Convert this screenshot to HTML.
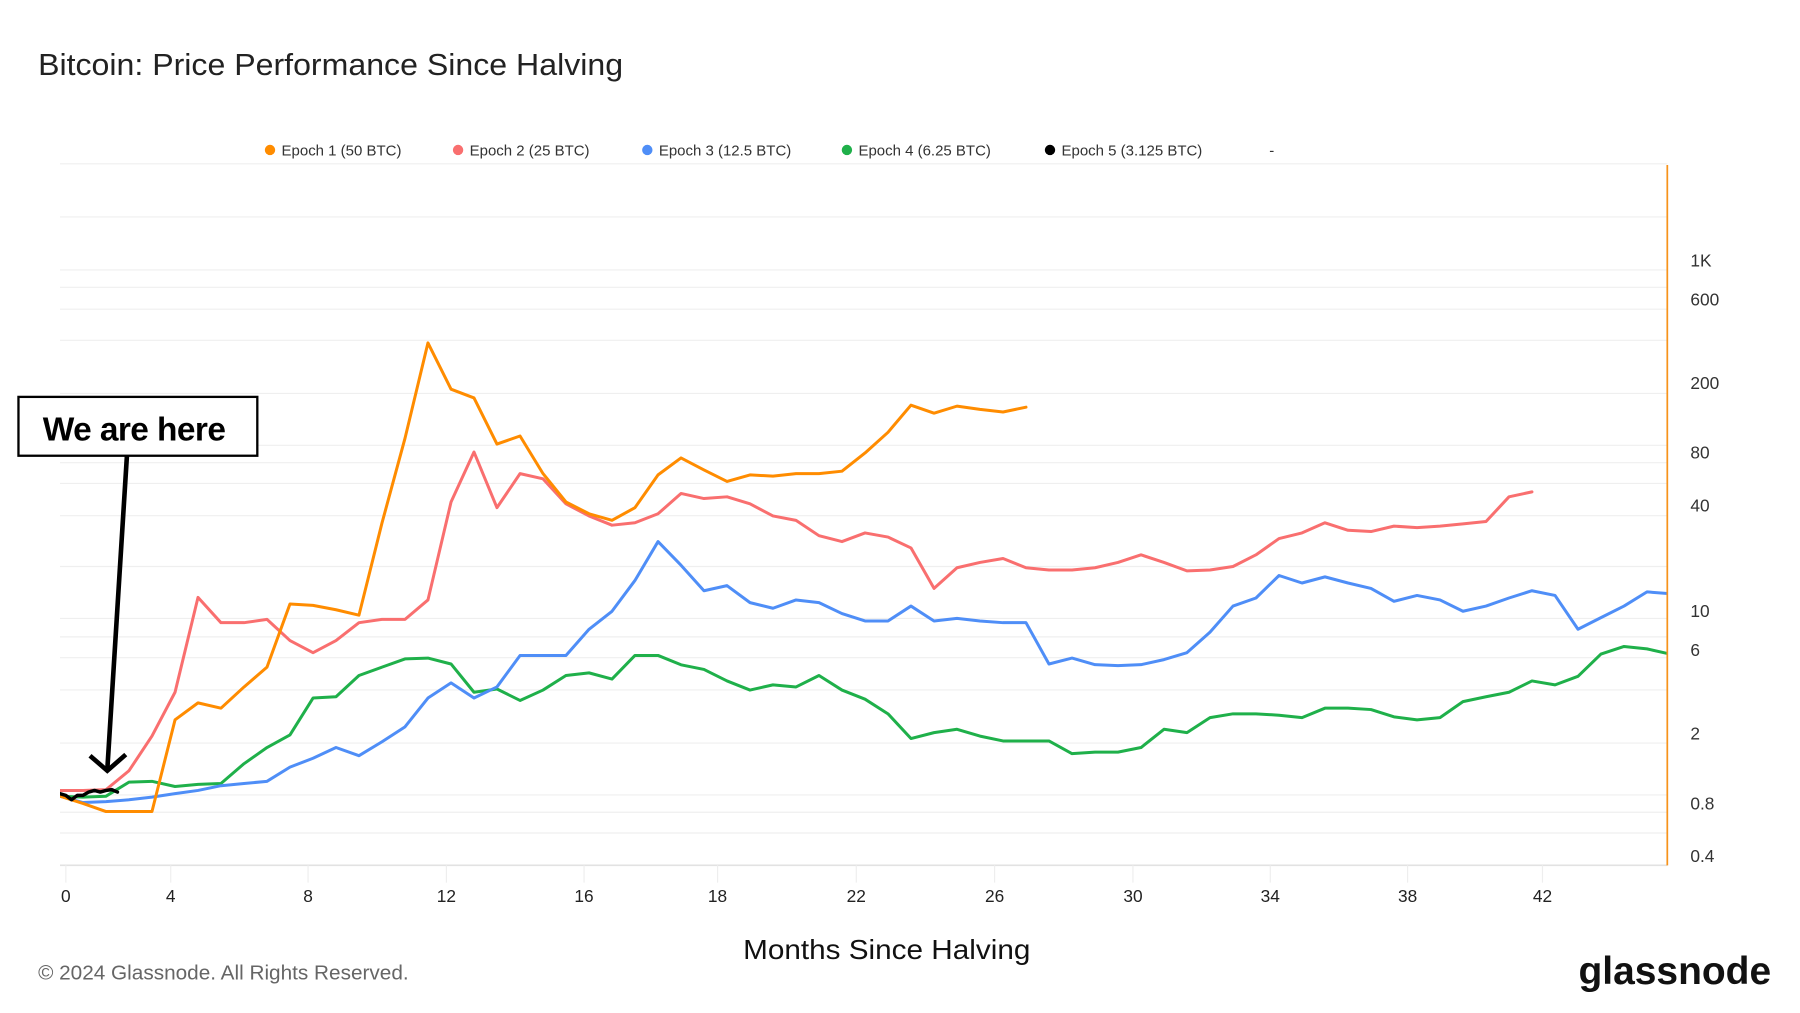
<!DOCTYPE html>
<html>
<head>
<meta charset="utf-8">
<style>
  html,body{margin:0;padding:0;background:#fff;}
  svg{display:block;}
  text{font-family:"Liberation Sans", sans-serif;}
</style>
</head>
<body>
<svg id="chart" xmlns="http://www.w3.org/2000/svg" width="1800" height="1013" viewBox="0 0 1560 878" preserveAspectRatio="none">
  <defs>
    <clipPath id="plotclip"><rect x="52" y="140" width="1393" height="612"/></clipPath>
  </defs>
  <text x="33" y="65" font-size="26.5" fill="#222" textLength="507" lengthAdjust="spacingAndGlyphs">Bitcoin: Price Performance Since Halving</text>

  <g id="legend" font-size="13" fill="#333">
    <g><circle cx="234" cy="130" r="4.5" fill="#ff8c00"/><text x="244" y="135">Epoch 1 (50 BTC)</text></g>
    <g><circle cx="397" cy="130" r="4.5" fill="#f96f6f"/><text x="407" y="135">Epoch 2 (25 BTC)</text></g>
    <g><circle cx="561" cy="130" r="4.5" fill="#4f8ef7"/><text x="571" y="135">Epoch 3 (12.5 BTC)</text></g>
    <g><circle cx="734" cy="130" r="4.5" fill="#1fb04a"/><text x="744" y="135">Epoch 4 (6.25 BTC)</text></g>
    <g><circle cx="910" cy="130" r="4.5" fill="#000"/><text x="920" y="135">Epoch 5 (3.125 BTC)</text></g>
    <text x="1100" y="135">-</text>
  </g>

  <g id="grid"></g>
  <g id="xaxis"></g>
  <g id="yaxis"></g>
  <g id="series" clip-path="url(#plotclip)"></g>
  <line x1="1445" y1="143" x2="1445" y2="750" stroke="#f7931a" stroke-width="1.5"/>

  <g>
    <rect x="16" y="344" width="207" height="51" fill="#fff" stroke="#000" stroke-width="2"/>
    <text x="37" y="382" font-size="29" font-weight="bold" fill="#000" letter-spacing="-0.5">We are here</text>
    <line x1="110" y1="395" x2="93" y2="667" stroke="#000" stroke-width="4"/>
    <polyline points="78,655 93,668 109,654" fill="none" stroke="#000" stroke-width="4"/>
  </g>

  <text x="644" y="831" font-size="24" fill="#111" textLength="249" lengthAdjust="spacingAndGlyphs">Months Since Halving</text>
  <text x="33" y="849" font-size="18" fill="#666">© 2024 Glassnode. All Rights Reserved.</text>
  <text x="1368" y="853" font-size="34" font-weight="bold" fill="#111" textLength="167" lengthAdjust="spacingAndGlyphs">glassnode</text>
</svg>
<script>
// ---- data ----
const stepMonths = 2/3;
const epoch5Step = 1/6;
const epoch1Values = [0.88,0.8,0.72,0.72,0.72,2.4,3.0,2.8,3.7,4.8,11,10.8,10.2,9.5,32,97,340,185,165,90,100,61,42,36,33,39,60,75,64,55,60,59,61,61,63,80,105,150,135,148,142,137,146];
const epoch2Values = [0.95,0.95,0.96,1.23,1.94,3.45,12,8.6,8.6,9.0,6.8,5.8,6.8,8.6,9.0,9.0,11.6,42,81,39,61,57,41,35,31,32,36,47,44,45,41,35,33,27,25,28,26.5,23,13.5,17.7,19,20,17.7,17.2,17.2,17.7,19,21,19,17,17.2,18,21,26,28,32,29,28.5,30.6,30,30.6,31.5,32.5,45,48];
const epoch3Values = [0.88,0.81,0.82,0.84,0.87,0.91,0.95,1.01,1.04,1.07,1.29,1.45,1.67,1.5,1.8,2.19,3.2,3.9,3.2,3.7,5.6,5.6,5.6,7.9,10,15,25,18.3,13.1,14,11.2,10.4,11.6,11.2,9.7,8.8,8.8,10.7,8.8,9.1,8.8,8.6,8.6,5.0,5.4,4.96,4.9,4.96,5.3,5.8,7.6,10.7,11.9,16,14.5,15.7,14.5,13.5,11.4,12.3,11.6,10,10.7,11.9,13.1,12.3,7.9,9.2,10.7,12.9,12.6];
const epoch4Values = [0.88,0.87,0.88,1.06,1.07,1.0,1.03,1.04,1.35,1.67,1.97,3.2,3.25,4.3,4.8,5.35,5.4,5.0,3.45,3.6,3.1,3.55,4.3,4.45,4.1,5.6,5.6,4.95,4.66,4.0,3.55,3.8,3.7,4.3,3.55,3.15,2.6,1.88,2.03,2.12,1.94,1.82,1.82,1.82,1.54,1.57,1.57,1.67,2.12,2.03,2.47,2.6,2.6,2.55,2.47,2.8,2.8,2.75,2.5,2.4,2.47,3.05,3.25,3.45,4.0,3.8,4.25,5.7,6.3,6.1,5.7];
const epoch5Values = [0.91,0.89,0.84,0.89,0.89,0.93,0.95,0.93,0.95,0.96,0.93];
const xTickMonths = [0.17,3.21,7.19,11.2,15.19,19.06,23.08,27.09,31.1,35.08,39.06,42.97];
const xTickLabels = ['0','4','8','12','16','18','22','26','30','34','38','42'];
const yTickValues = [1000,600,200,80,40,10,6,2,0.8,0.4];
const yTickLabels = ['1K','600','200','80','40','10','6','2','0.8','0.4'];

// ---- scales ----
const X0 = 52, PX_PER_MONTH = 29.9;
function xScale(m){ return X0 + m*PX_PER_MONTH; }
function yScale(v){ return 681.7 - Math.log10(v)*151.9; }

const NS = 'http://www.w3.org/2000/svg';
function mk(tag, attrs){ const e=document.createElementNS(NS,tag); for(const k in attrs) e.setAttribute(k,attrs[k]); return e; }

const grid = document.getElementById('grid');
[142,188,234,249,268,295,341,386,401,419,447,491,536,552,570,598,644,689,704,722].forEach(function(gy){
  const l = mk('line',{x1:52,x2:1445,y1:gy,y2:gy,stroke:'#efefef','stroke-width':1});
  
  
  grid.appendChild(l);
});
const base = mk('line',{x1:52,x2:1445,y1:750,y2:750,stroke:'#e2e2e2','stroke-width':1.5});


grid.appendChild(base);

const xaxis = document.getElementById('xaxis');
xTickMonths.forEach(function(m,i){
  const x = xScale(m);
  const t = mk('line',{x1:x,x2:x,y1:750,y2:765,stroke:'#eee','stroke-width':1});
  
  
  xaxis.appendChild(t);
  const lb = mk('text',{x:x,y:782,'font-size':15,fill:'#222','text-anchor':'middle'});
  
  
  lb.textContent = xTickLabels[i];
  xaxis.appendChild(lb);
});

const yaxis = document.getElementById('yaxis');
yTickValues.forEach(function(v,i){
  const lb = mk('text',{x:1465,y:yScale(v)+5,'font-size':15,fill:'#333'});
  
  
  lb.textContent = yTickLabels[i];
  yaxis.appendChild(lb);
});

const seriesG = document.getElementById('series');
function drawSeries(values, step, color, name, width){
  let d='';
  values.forEach(function(v,i){
    d += (i?'L':'M') + xScale(i*step).toFixed(1) + ',' + yScale(v).toFixed(1);
  });
  const p = mk('path',{d:d,fill:'none',stroke:color,'stroke-width':width,'stroke-linejoin':'round','stroke-linecap':'round'});
  
  
  seriesG.appendChild(p);
}
drawSeries(epoch4Values, stepMonths, '#1fb04a', 'epoch-4-line', 2.6);
drawSeries(epoch3Values, stepMonths, '#4f8ef7', 'epoch-3-line', 2.6);
drawSeries(epoch2Values, stepMonths, '#f96f6f', 'epoch-2-line', 2.6);
drawSeries(epoch1Values, stepMonths, '#ff8c00', 'epoch-1-line', 2.6);
drawSeries(epoch5Values, epoch5Step, '#000000', 'epoch-5-line', 3);
</script>
</body>
</html>
